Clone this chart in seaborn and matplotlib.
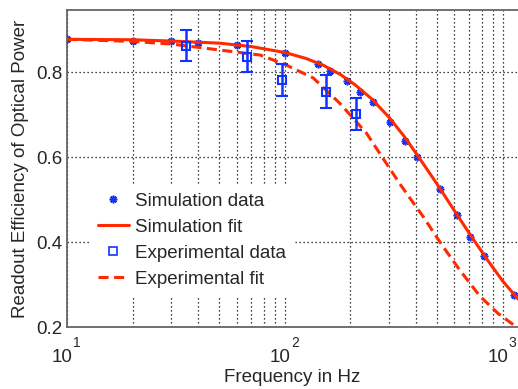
import numpy as np
import pandas as pd
import matplotlib
matplotlib.use("Agg")
import matplotlib.pyplot as plt
import seaborn as sns
from matplotlib.lines import Line2D

# ---- data ----
sim_freq = [10, 20, 30, 40, 60, 100, 142, 161, 192, 222, 254, 303, 355, 406, 514, 614, 711, 819, 1122]
sim_eff = [0.877, 0.874, 0.873, 0.869, 0.864, 0.845, 0.819, 0.803, 0.780, 0.752, 0.729, 0.683,
           0.638, 0.599, 0.525, 0.464, 0.411, 0.367, 0.275]

simfit_freq = [10, 20, 30, 50, 70, 100, 125, 150, 180, 210, 250, 300, 350, 410, 500, 610, 720, 850, 1000, 1175]
simfit_eff = [0.877, 0.876, 0.873, 0.868, 0.860, 0.846, 0.832, 0.816, 0.794, 0.770, 0.737, 0.694,
              0.651, 0.601, 0.536, 0.468, 0.412, 0.358, 0.308, 0.266]

exp_freq = [35, 67, 97, 155, 213]
exp_eff = [0.862, 0.836, 0.781, 0.754, 0.701]
exp_err = [0.036, 0.037, 0.037, 0.038, 0.038]

expfit_freq = [10, 20, 30, 50, 77, 100, 135, 179, 237, 282, 337, 374, 431, 524, 635, 784, 951, 1135, 1175]
expfit_eff = [0.877, 0.872, 0.866, 0.852, 0.840, 0.818, 0.786, 0.726, 0.656, 0.597, 0.537, 0.504,
              0.460, 0.394, 0.334, 0.273, 0.232, 0.203, 0.197]

x_exponents = [1, 2, 3]
y_ticks = [0.2, 0.4, 0.6, 0.8]

RED = "#ff2a00"
BLUE = "#1233ff"

sns.set_style("white")
plt.rcParams["font.family"] = ["Liberation Sans", "DejaVu Sans"]
plt.rcParams["font.size"] = 13.5

fig = plt.figure(figsize=(5.18, 3.89), dpi=100)
ax = fig.add_axes([67 / 518, 62 / 389, 451 / 518, 317 / 389])

sim_df = pd.DataFrame({"f": sim_freq, "e": sim_eff})
simfit_df = pd.DataFrame({"f": simfit_freq, "e": simfit_eff})
expfit_df = pd.DataFrame({"f": expfit_freq, "e": expfit_eff})

ax.plot(sim_df["f"], sim_df["e"], linestyle="none", marker=(8, 2, 0), markersize=5.5,
        markeredgewidth=1.2, color=BLUE, zorder=3)
sns.lineplot(data=simfit_df, x="f", y="e", ax=ax, color=RED, linewidth=2.2,
             sort=False, estimator=None, zorder=4)
sns.lineplot(data=expfit_df, x="f", y="e", ax=ax, color=RED, linewidth=2.2,
             sort=False, estimator=None, zorder=4, dashes=False)
ax.lines[-1].set_linestyle((0, (3.3, 1.8)))
ax.errorbar(exp_freq, exp_eff, yerr=exp_err, fmt="s", mfc="none", mec=BLUE, ecolor=BLUE,
            markersize=6, markeredgewidth=1.5, elinewidth=1.8, capsize=4.4, capthick=1.8, zorder=5)

ax.set_xscale("log")
ax.set_xlim(10, 1175)
ax.set_ylim(0.2, 0.946)
ax.set_yticks(y_ticks)
ax.set_yticklabels([f"{v:.1f}" for v in y_ticks])
ax.set_xticks([10.0 ** k for k in x_exponents])
ax.set_xticklabels([])
ax.xaxis.set_minor_locator(matplotlib.ticker.LogLocator(base=10, subs=np.arange(2, 10)))
ax.xaxis.set_minor_formatter(matplotlib.ticker.NullFormatter())

grid_kw = dict(color="black", linewidth=0.9, linestyle=(0, (1, 2.2)))
ax.grid(True, which="major", axis="both", **grid_kw)
ax.grid(True, which="minor", axis="x", **grid_kw)
ax.set_axisbelow(True)

ax.tick_params(axis="both", which="both", direction="in", length=4, color="#444444",
               labelsize=13.5, pad=3.5)
ax.tick_params(axis="x", which="minor", length=2.5)

for s in ["left", "bottom", "top"]:
    ax.spines[s].set_color("#666666")
    ax.spines[s].set_linewidth(1.3)
ax.spines["right"].set_visible(False)

for k in x_exponents:
    ax.annotate("10", xy=(10.0 ** k, 0), xycoords=("data", "axes fraction"),
                xytext=(-3.3, -22.3), textcoords="offset points", ha="center", va="center",
                fontsize=13.5, annotation_clip=False)
    ax.annotate(str(k), xy=(10.0 ** k, 0), xycoords=("data", "axes fraction"),
                xytext=(4.3, -11.2), textcoords="offset points", ha="left", va="center",
                fontsize=10, annotation_clip=False)

ax.set_xlabel("Frequency in Hz", fontsize=13.5)
ax.xaxis.set_label_coords(0.5, -0.131)
ax.set_ylabel("Readout Efficiency of Optical Power", fontsize=13.5, va="center")
ax.yaxis.set_label_coords(-(67 - 21) / 451, 0.5)

handles = [
    Line2D([], [], linestyle="none", marker=(8, 2, 0), markersize=5.5, markeredgewidth=1.2, color=BLUE),
    Line2D([], [], color=RED, linewidth=2.2),
    Line2D([], [], linestyle="none", marker="s", mfc="none", mec=BLUE, markersize=6, markeredgewidth=1.2),
    Line2D([], [], color=RED, linewidth=2.2, linestyle=(0, (3.3, 1.8))),
]
labels = ["Simulation data", "Simulation fit", "Experimental data", "Experimental fit"]
leg = ax.legend(handles, labels, loc="upper left", bbox_to_anchor=((90 - 67) / 451, (327 - 185) / 317),
                borderaxespad=0, frameon=True, fancybox=False, framealpha=1, facecolor="white",
                edgecolor="white", fontsize=13.5, handlelength=1.7, handletextpad=0.3,
                labelspacing=0.48, borderpad=0.4)
leg.set_zorder(6)

fig.savefig("out.png", dpi=100)
